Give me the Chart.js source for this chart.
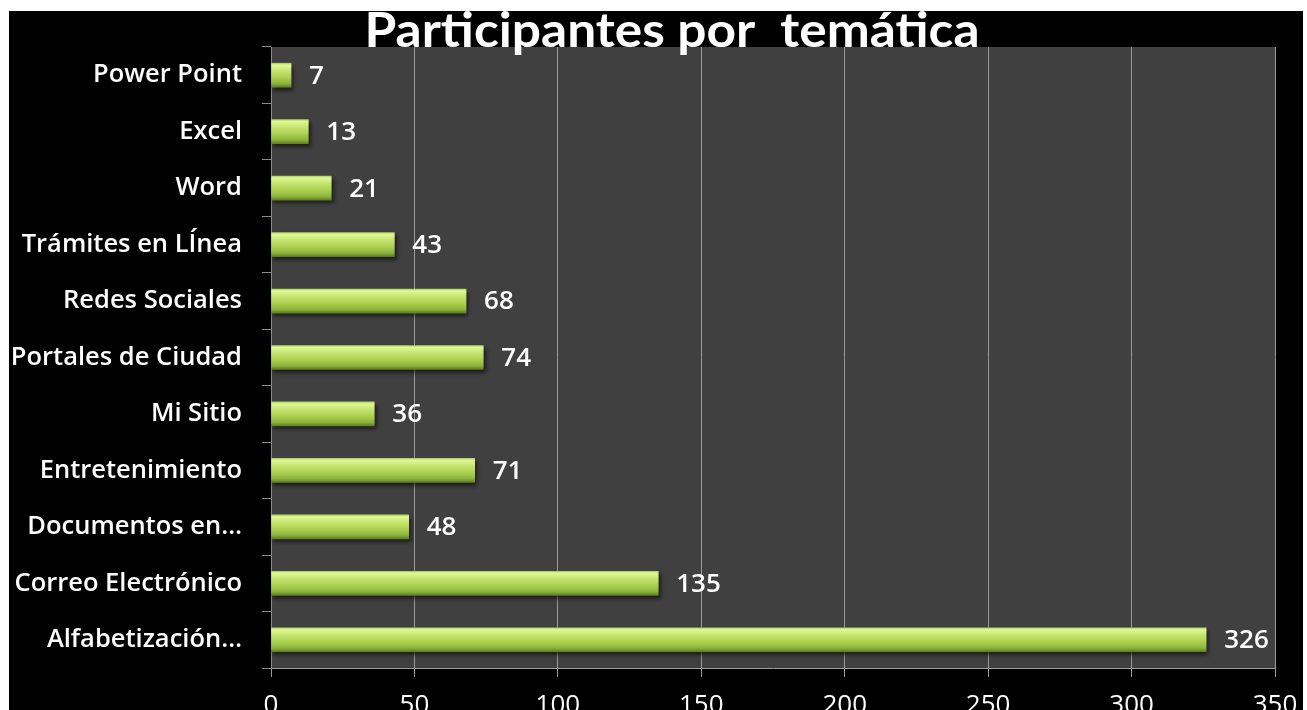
<!DOCTYPE html>
<html>
<head>
<meta charset="utf-8">
<script src="https://cdn.jsdelivr.net/npm/chart.js@4"></script>
<style>
  html, body { margin: 0; padding: 0; background: #fff; }
  #box { position: absolute; left: 9px; top: 11px; width: 1294px; height: 699px; background: #000; }
</style>
</head>
<body>
<div id="box"><canvas id="temasChart" width="1294" height="699"></canvas></div>
<script>
// data, top to bottom
var categories = ['Power Point', 'Excel', 'Word', 'Trámites en LÍnea', 'Redes Sociales',
    'Portales de Ciudad', 'Mi Sitio', 'Entretenimiento', 'Documentos en…',
    'Correo Electrónico', 'Alfabetización…'];
var participants = [7, 13, 21, 43, 68, 74, 36, 71, 48, 135, 326];
var xTicks = [0, 50, 100, 150, 200, 250, 300, 350];
var chartTitle = 'Participantes por  temática';

// green bar gradient, one per bar (depends on where the bar sits)
function barGradient(context) {
    var chart = context.chart;
    var y = chart.scales.y;
    if (!y || context.dataIndex === undefined) return '#a6cc50';
    var cy = y.getPixelForValue(context.dataIndex);
    if (!isFinite(cy)) return '#a6cc50';
    var g = chart.ctx.createLinearGradient(0, cy - 12, 0, cy + 12);
    g.addColorStop(0, '#b0d65c');
    g.addColorStop(0.08, '#e0f79a');
    g.addColorStop(0.3, '#c6e670');
    g.addColorStop(0.6, '#aad050');
    g.addColorStop(0.85, '#8cb23a');
    g.addColorStop(1, '#5f7e24');
    return g;
}

// grey plot background + bar shadow
var plotBack = {
    id: 'plotBack',
    beforeDraw: function(chart) {
        var a = chart.chartArea, ctx = chart.ctx;
        ctx.save();
        ctx.fillStyle = '#404040';
        ctx.fillRect(a.left, a.top, a.right - a.left, a.bottom - a.top);
        ctx.restore();
    },
    beforeDatasetsDraw: function(chart) {
        var ctx = chart.ctx;
        ctx.save();
        ctx.shadowColor = 'rgba(0,0,0,0.55)';
        ctx.shadowOffsetX = 2;
        ctx.shadowOffsetY = 3;
        ctx.shadowBlur = 4;
    },
    afterDatasetsDraw: function(chart) {
        chart.ctx.restore();
    }
};

// value next to each bar
var valueLabels = {
    id: 'valueLabels',
    afterDatasetsDraw: function(chart) {
        var ctx = chart.ctx;
        var meta = chart.getDatasetMeta(0);
        ctx.save();
        ctx.fillStyle = '#ffffff';
        ctx.font = '600 26px "Open Sans"';
        ctx.textAlign = 'left';
        ctx.textBaseline = 'middle';
        meta.data.forEach(function(bar, i) {
            ctx.fillText(participants[i], bar.x + 18, bar.y + 1);
        });
        ctx.restore();
    }
};

// stretched title like the original
var bigTitle = {
    id: 'bigTitle',
    afterDraw: function(chart) {
        var ctx = chart.ctx;
        ctx.save();
        ctx.font = 'bold 40px Lato';
        var w = ctx.measureText(chartTitle).width;
        ctx.translate(663, 36);
        ctx.scale(615 / w, 1.18);
        ctx.fillStyle = '#ffffff';
        ctx.textAlign = 'center';
        ctx.textBaseline = 'alphabetic';
        ctx.fillText(chartTitle, 0, 0);
        ctx.restore();
    }
};

var ctx = document.getElementById('temasChart').getContext('2d');
var temasChart = new Chart(ctx, {
    type: 'bar',
    data: {
        labels: categories,
        datasets: [{
            label: 'Participantes',
            data: participants,
            backgroundColor: barGradient,
            borderWidth: 0,
            barThickness: 24
        }]
    },
    options: {
        indexAxis: 'y',
        responsive: false,
        animation: false,
        layout: { padding: { top: 36, right: 28, left: 0, bottom: 0 } },
        plugins: {
            legend: { display: false },
            title: { display: false },
            tooltip: { enabled: false }
        },
        scales: {
            x: {
                min: 0,
                max: 350,
                afterBuildTicks: function(scale) {
                    scale.ticks = xTicks.map(function(v) { return { value: v }; });
                },
                afterFit: function(scale) {
                    scale.height = 42;
                    scale.paddingLeft = 0;
                    scale.paddingRight = 0;
                },
                grid: { color: '#9a9a9a', lineWidth: 1, tickLength: 9 },
                border: { color: '#9a9a9a' },
                ticks: { color: '#ffffff', padding: 13, font: { family: 'Open Sans', size: 26 } }
            },
            y: {
                afterFit: function(scale) { scale.width = 262; },
                grid: { drawOnChartArea: false, color: '#8a8a8a', tickLength: 9 },
                border: { color: '#8a8a8a' },
                ticks: { color: '#ffffff', padding: 20, font: { family: 'Open Sans', size: 25.5, weight: '600' } }
            }
        }
    },
    plugins: [plotBack, valueLabels, bigTitle]
});
</script>
</body>
</html>
